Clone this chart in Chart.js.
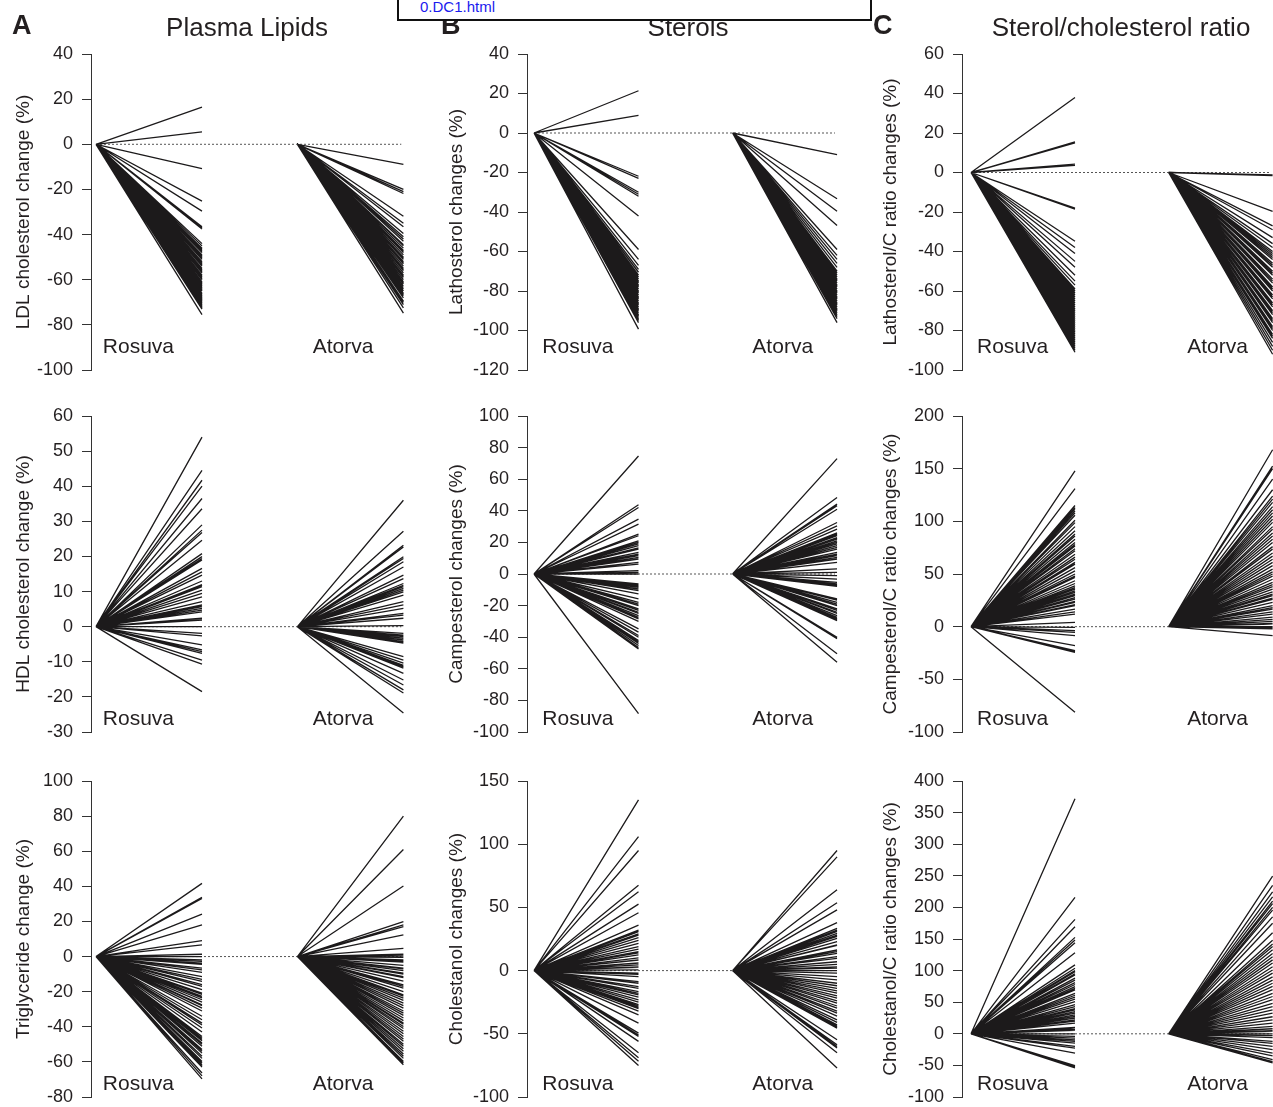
<!DOCTYPE html>
<html>
<head>
<meta charset="utf-8">
<script src="https://cdn.jsdelivr.net/npm/chart.js@4.4.0/dist/chart.umd.min.js"></script>
<style>
  html, body { margin: 0; padding: 0; overflow: hidden; background: #fff; }
  #page { position: relative; width: 1273px; height: 1107px; overflow: hidden; }
  canvas { position: absolute; }
  .head { position: absolute; top: 12px; font: 26px "Liberation Sans", Arial, sans-serif; color: #231f20; line-height: 30px; transform: translateX(-50%); white-space: nowrap; z-index: 2; }
  .letter { position: absolute; top: 10px; font: bold 27px "Liberation Sans", Arial, sans-serif; color: #231f20; line-height: 30px; z-index: 2; }
  #linkbox { position: absolute; left: 397px; top: -3px; width: 471px; height: 20px; border: 2px solid #111; background: #fff; z-index: 5; }
  #linkbox span { position: absolute; left: 21px; top: -1px; font: 15px "Liberation Sans", Arial, sans-serif; color: #1a1aee; }
</style>
</head>
<body>
<div id="page">
  <div class="letter" style="left:12px">A</div>
  <div class="letter" style="left:441px">B</div>
  <div class="letter" style="left:873px">C</div>
  <div class="head" style="left:247px">Plasma Lipids</div>
  <div class="head" style="left:688px">Sterols</div>
  <div class="head" style="left:1121px">Sterol/cholesterol ratio</div>
  <div id="linkbox"><span>0.DC1.html</span></div>
</div>
<script>
// groups and where each fan starts on the x axis
const groups = ['Rosuva', 'Atorva'];
const groupStart = [0, 1.9];

// tick labels per panel
const ldlTicks = [40, 20, 0, -20, -40, -60, -80, -100];
const lathTicks = [40, 20, 0, -20, -40, -60, -80, -100, -120];
const lathRatioTicks = [60, 40, 20, 0, -20, -40, -60, -80, -100];
const hdlTicks = [60, 50, 40, 30, 20, 10, 0, -10, -20, -30];
const campTicks = [100, 80, 60, 40, 20, 0, -20, -40, -60, -80, -100];
const campRatioTicks = [200, 150, 100, 50, 0, -50, -100];
const trigTicks = [100, 80, 60, 40, 20, 0, -20, -40, -60, -80];
const cholTicks = [150, 100, 50, 0, -50, -100];
const cholRatioTicks = [400, 350, 300, 250, 200, 150, 100, 50, 0, -50, -100];

// % change per patient (end point of each line)
const ldlRosuva = [16.5, 5.5, -10.8, -25.2, -29.6, -36.5, -37, -37.5, -44, -45, -46, -46.5, -47, -47.5, -48, -49, -49.5, -50, -50.5, -51, -52, -52.5, -53, -53.5, -54, -55, -55.5, -56, -56.5, -57, -58, -58.5, -59, -59.5, -60, -61, -61.5, -62, -62.5, -63, -63.5, -64, -64.5, -65, -66, -66.5, -67, -67.5, -68, -68.5, -69, -69.5, -70, -70.5, -71, -71.5, -72, -72.5, -73, -75.5];
const ldlAtorva = [-8.9, -20, -21, -21.8, -31.9, -35, -36.5, -39.5, -41, -42, -43, -44.5, -45, -46, -47, -47.5, -48, -49, -50, -50.5, -51, -52, -52.5, -53, -54, -55, -55.5, -56, -57, -58, -58.5, -59, -60, -61, -61.5, -62, -63, -64, -65, -66, -66.5, -67, -68, -69.5, -70, -71, -72.5, -74.8];
const lathRosuva = [21.4, 8.9, -21.9, -23, -30, -31, -32, -42, -59, -64, -67, -69, -70.5, -72, -73, -74, -75, -75.5, -76, -77, -77.5, -78, -79, -80, -80.5, -81, -82, -83, -83.5, -84, -85, -86, -86.5, -87, -88, -89, -89.5, -90, -91, -92, -92.5, -93, -94, -94.5, -95, -96, -99.3];
const lathAtorva = [-10.9, -33.3, -39.6, -46.8, -59, -62, -64, -66, -68, -70, -71, -72, -73, -74, -74.5, -75, -76, -77, -77.5, -78, -79, -80, -80.5, -81, -82, -83, -83.5, -84, -85, -86, -86.5, -87, -88, -89, -89.5, -90, -91, -92, -93, -94, -96];
const lathRatioRosuva = [38, 15.5, 15, 4.2, 3.6, -18, -18.6, -34.8, -38, -41, -45, -48, -52, -55, -57, -59, -60, -61, -62, -63, -64, -65, -66, -67, -68, -69, -70, -71, -72, -73, -74, -75, -76, -77, -78, -79, -80, -81, -82, -83, -84, -85, -86, -87, -88, -89, -90, -91];
const lathRatioAtorva = [-1.2, -1.6, -19.7, -27, -29, -33, -36, -38, -40, -41, -42, -43, -44, -46, -47, -48, -50, -51, -52, -54, -55, -56, -58, -59, -60, -62, -63, -64, -66, -67, -68, -70, -71, -72, -74, -75, -76, -78, -79, -80, -82, -83, -84, -86, -88, -90, -92];
const hdlRosuva = [54, 44.5, 41.7, 40, 36.5, 33.6, 29, 27.5, 26.8, 24.6, 20.8, 20, 19.9, 19.4, 19, 16.6, 15.6, 14.7, 13, 12, 11.8, 11.4, 10.4, 9.5, 8.5, 7.1, 6.2, 6, 5.7, 5.2, 4.7, 4.2, 2.4, 1.9, 0, -1.9, -2.6, -5.2, -6.6, -7.1, -7.6, -9.5, -10.7, -18.5];
const hdlAtorva = [36, 27.2, 23.2, 22.7, 19.9, 19.4, 18.5, 17, 14.7, 13.7, 12.3, 11.8, 11.4, 10.9, 10.4, 9.9, 9, 7.1, 6.2, 5.2, 3.8, 3.3, 2.4, 0.3, -1.9, -2.4, -2.8, -3.3, -3.8, -4.3, -4.7, -8.5, -9.5, -10.4, -11, -11.4, -11.8, -13.3, -15.2, -16.6, -18, -18.9, -24.6];
const campRosuva = [74.7, 43.8, 42.1, 34.7, 31.6, 25.3, 24.2, 21, 20, 19, 17.9, 16.5, 15.8, 13.7, 12.5, 11.6, 10.5, 9.5, 7.4, 6.3, 2.1, 1, 0, -6.3, -7, -7.4, -8, -8.5, -9.5, -10.5, -12.6, -15.8, -17.9, -19, -20, -22.1, -23, -24.2, -25, -26.3, -27.5, -28.4, -30, -34.7, -36.8, -38.9, -40, -42.1, -43, -44, -45.3, -46.5, -47.4, -88.4];
const campAtorva = [73, 48.4, 44.2, 43.2, 41, 32.6, 30.5, 28.4, 26, 25.3, 24.8, 24.2, 23, 22.5, 22.1, 21, 20, 19, 17.9, 16.8, 15.8, 13.7, 12.5, 11.6, 10.5, 9.5, 7.4, 3.2, 1, -1, -3.2, -5.3, -6.3, -6.8, -7.4, -7.8, -15.8, -16.5, -17.9, -19, -20, -22.1, -23, -24.2, -25, -26.3, -27.5, -28.4, -29, -29.5, -40, -40.5, -41, -50.5, -55.8];
const campRatioRosuva = [147.8, 131, 115, 113, 112, 110, 108, 105.8, 101, 98.8, 95, 91, 88, 86, 83, 80, 78, 76.7, 74, 72, 68.8, 66, 64, 61, 59.4, 56, 53, 50, 48, 46.7, 43.6, 41, 38.8, 37, 35.7, 34, 32.5, 31, 30, 29.4, 27.5, 26.2, 24, 23, 21, 20, 16.7, 14, 12, 4.1, -0.6, -3.8, -5.4, -8.5, -18, -22.7, -23.5, -24.3, -81.2];
const campRatioAtorva = [168, 152.5, 150, 140, 130, 124, 121, 118, 114, 111, 108, 105, 102, 99, 95, 92.5, 89, 86, 83, 80, 76, 73.6, 70, 67, 64, 61, 58, 54.6, 52, 50, 48, 45, 42, 40, 38, 35.7, 33, 31, 29.4, 27, 26, 23, 20, 18, 16.7, 14, 12, 9, 7, 5, 3, 2.5, 0, -1, -2, -8.5];
const trigRosuva = [41.7, 33.7, 33.1, 24.2, 18, 9.1, 6.6, 1.3, 0, -1.9, -2.8, -3.8, -4.5, -6.6, -7.6, -9, -11.4, -13, -14.2, -16, -17, -18.9, -20.8, -21.5, -22.7, -23.5, -24.6, -26, -27.5, -28, -29.4, -31, -34, -36, -37.9, -39, -40.7, -43, -45.5, -46.5, -47.3, -48, -49.2, -50, -51.1, -53, -54, -55, -56.8, -58, -59.7, -60.5, -61.6, -62.5, -63, -66.3, -68, -69.7];
const trigAtorva = [80, 61, 40.2, 19.9, 18, 17, 12.3, 4.7, 1.3, 0.5, -0.4, -1.9, -2.5, -3.2, -5, -6.6, -7, -8, -9.5, -10, -11.4, -12, -14, -16.1, -17, -18, -20, -21.8, -22.5, -23.7, -25, -26.5, -28, -29.4, -31, -32.2, -33.5, -35, -36.5, -37.9, -38.5, -39.8, -41, -42.6, -44, -45.5, -47, -48.3, -50, -51.1, -52.5, -54, -55.5, -56.8, -58, -59.7, -60.5, -61.6];
const cholRosuva = [135, 106, 95, 67.6, 62.4, 52.6, 45.8, 36, 32, 31, 30.8, 29, 28, 26, 24, 21.6, 19, 17, 15, 14, 12.4, 10, 8.4, 6, 4.5, 3, 2.6, 0.5, -2, -3, -4.7, -8.7, -10, -12.6, -14, -16.6, -18, -19.2, -21, -23.2, -25, -27, -28, -29, -29.7, -30, -32, -35, -41.6, -49.5, -51, -52, -56, -65, -69, -71.8, -75];
const cholAtorva = [95, 90, 64, 53.7, 48, 38, 33.4, 32, 31, 29.5, 28, 27, 25.5, 23, 20.3, 20, 16.3, 15, 13.7, 11, 9.7, 7, 5, 3, 2, 0, -2, -4.7, -7.4, -10, -12, -14, -16, -17.9, -20, -21.8, -24, -25.8, -28, -29.7, -32, -33.7, -36, -39, -41, -42.9, -44, -44.5, -45.5, -54.7, -58.7, -60, -61.3, -65, -77];
const cholRatioRosuva = [372, 216, 181, 169.5, 152.6, 148.4, 144, 128.4, 109, 103.7, 100, 98.4, 95, 93, 88, 85, 81, 78, 74.7, 72, 69.5, 64, 61, 58, 55, 51, 46, 43, 40, 37.9, 35, 32.6, 30, 27.4, 25, 22, 20, 16.8, 10, 8.9, 7, 5.3, 0, -4, -6.8, -9.5, -12, -14.7, -20, -22.6, -30.5, -50.5, -51, -52, -54];
const cholRatioAtorva = [249.5, 235, 224.7, 216.8, 210, 206, 200, 195.8, 185, 175, 160, 148, 142, 138, 133, 127, 122, 117, 112, 106, 101, 96, 90, 85, 80, 75, 70, 64, 59, 54, 48, 43, 38, 32.6, 27, 22, 17, 11.6, 8, 5, 3.7, 0, -3, -6, -12, -15, -20, -25, -30.5, -35, -41, -44, -46];

const panels = [
  { col: 0, row: 0, label: 'LDL cholesterol change (%)', ticks: ldlTicks, sets: [ldlRosuva, ldlAtorva] },
  { col: 1, row: 0, label: 'Lathosterol changes (%)', ticks: lathTicks, sets: [lathRosuva, lathAtorva] },
  { col: 2, row: 0, label: 'Lathosterol/C ratio changes (%)', ticks: lathRatioTicks, sets: [lathRatioRosuva, lathRatioAtorva] },
  { col: 0, row: 1, label: 'HDL cholesterol change (%)', ticks: hdlTicks, sets: [hdlRosuva, hdlAtorva] },
  { col: 1, row: 1, label: 'Campesterol changes (%)', ticks: campTicks, sets: [campRosuva, campAtorva] },
  { col: 2, row: 1, label: 'Campesterol/C ratio changes (%)', ticks: campRatioTicks, sets: [campRatioRosuva, campRatioAtorva] },
  { col: 0, row: 2, label: 'Triglyceride change (%)', ticks: trigTicks, sets: [trigRosuva, trigAtorva] },
  { col: 1, row: 2, label: 'Cholestanol changes (%)', ticks: cholTicks, sets: [cholRosuva, cholAtorva] },
  { col: 2, row: 2, label: 'Cholestanol/C ratio changes (%)', ticks: cholRatioTicks, sets: [cholRatioRosuva, cholRatioAtorva] }
];

// layout
const cols = [
  { left: 12, axisW: 79, width: 408, gap: 5, unit: 106, labelAt: [0.4, 0.43] },
  { left: 445, axisW: 82, width: 420, gap: 7, unit: 104.5, labelAt: [0.42, 0.48] },
  { left: 879, axisW: 83, width: 420, gap: 9, unit: 104, labelAt: [0.4, 0.47] }
];
const rows = [{ top: 32, lift: 23 }, { top: 394, lift: 13 }, { top: 759, lift: 13 }];
const canvasH = 360, padV = 22;
const ink = '#1c1a1b';
const font = '"Liberation Sans", Arial, Helvetica, sans-serif';
Chart.defaults.font.family = font;

const groupLabels = {
  id: 'groupLabels',
  afterDatasetsDraw(chart, args, opts) {
    const { ctx, chartArea, scales: { x } } = chart;
    ctx.save();
    ctx.font = '21px ' + font;
    ctx.fillStyle = '#231f20';
    ctx.textAlign = 'center';
    ctx.textBaseline = 'middle';
    groups.forEach((g, i) => {
      ctx.fillText(g, x.getPixelForValue(groupStart[i] + opts.at[i]), chartArea.bottom - opts.lift);
    });
    ctx.restore();
  }
};

function fan(values, start) {
  const pts = [];
  values.forEach(v => {
    pts.push({ x: start, y: 0 }, { x: start + 1, y: v }, { x: start, y: null });
  });
  return pts;
}

const page = document.getElementById('page');
panels.forEach(p => {
  const c = cols[p.col], r = rows[p.row];
  const cv = document.createElement('canvas');
  cv.width = c.width;
  cv.height = canvasH;
  cv.style.left = c.left + 'px';
  cv.style.top = r.top + 'px';
  page.appendChild(cv);

  const datasets = p.sets.map((vals, i) => ({
    data: fan(vals, groupStart[i]),
    borderColor: ink,
    borderWidth: 1.3,
    pointRadius: 0,
    spanGaps: false
  }));
  datasets.push({
    data: [{ x: 0, y: 0 }, { x: groupStart[1] + 0.98, y: 0 }],
    borderColor: '#555',
    borderWidth: 1,
    borderDash: [2, 2],
    pointRadius: 0
  });

  new Chart(cv, {
    type: 'line',
    data: { datasets },
    plugins: [groupLabels],
    options: {
      responsive: false,
      animation: false,
      events: [],
      layout: { padding: { top: padV, bottom: padV, left: 0, right: 0 } },
      plugins: {
        legend: { display: false },
        tooltip: { enabled: false },
        groupLabels: { lift: r.lift, at: c.labelAt }
      },
      scales: {
        x: {
          type: 'linear',
          display: false,
          min: -c.gap / c.unit,
          max: (c.width - c.axisW - c.gap) / c.unit
        },
        y: {
          type: 'linear',
          min: Math.min(...p.ticks),
          max: Math.max(...p.ticks),
          afterBuildTicks: s => { s.ticks = p.ticks.map(v => ({ value: v })); },
          afterFit: s => { s.width = c.axisW; },
          border: { display: true, color: '#333', width: 1 },
          grid: { display: true, drawOnChartArea: false, drawTicks: true, tickLength: 9, tickColor: '#333', color: '#333' },
          ticks: { color: '#231f20', font: { size: 18 }, padding: 9, autoSkip: false },
          title: { display: true, text: p.label, color: '#231f20', font: { size: 19 }, padding: { top: 0, bottom: 0 } }
        }
      }
    }
  });
});
</script>
</body>
</html>
